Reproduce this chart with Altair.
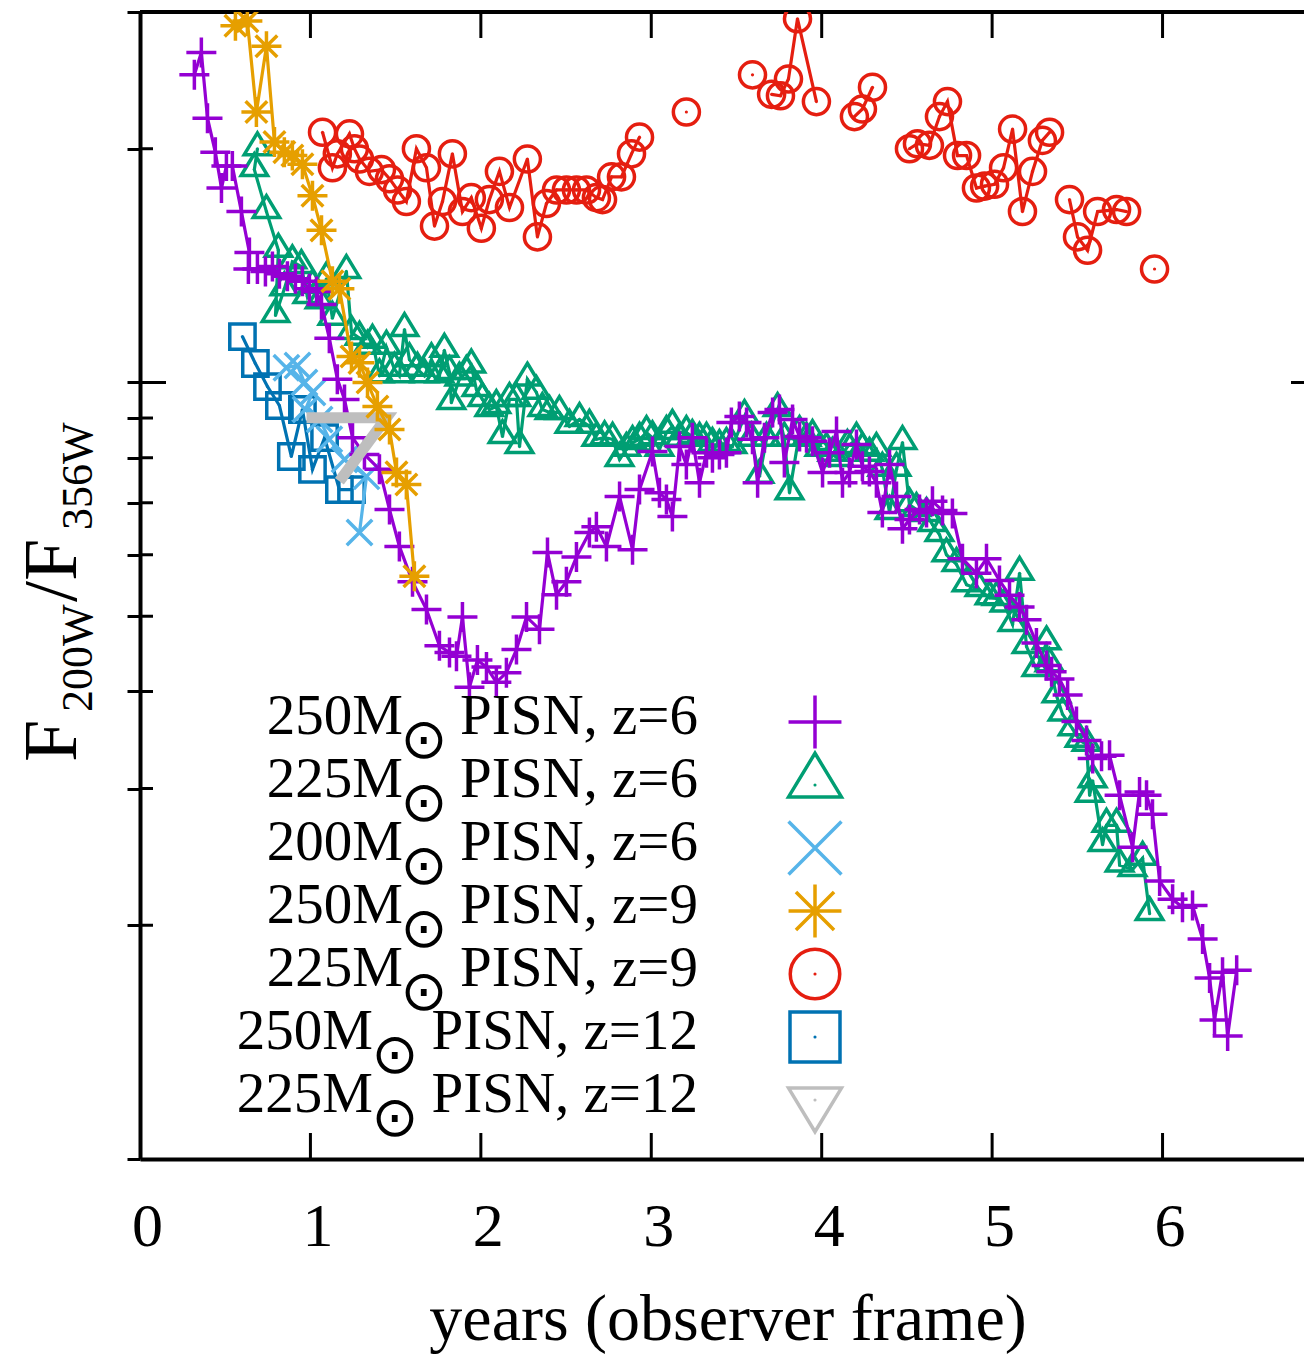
import altair as alt
import pandas as pd

# ---------------- data (years, F200W/F356W) ----------------
p250z6_t = [0.319,0.360,0.396,0.442,0.478,0.507,0.542,0.595,0.642,0.636,
            0.689,0.736,0.777,0.818,0.865,0.912,0.953,0.994,1.036,1.065,
            1.111,1.158,1.200,1.247,1.317,1.405,1.464,1.522,1.599,1.681,
            1.757,1.816,1.857,1.892,1.933,1.980,2.033,2.091,2.150,2.209,
            2.268,2.344,2.391,2.444,2.502,2.561,2.637,2.678,2.737,2.814,
            2.890,2.931,3.007,3.048,3.089,3.124,3.166,3.206,3.241,3.283,
            3.324,3.359,3.400,3.441,3.470,3.517,3.559,3.594,3.624,3.664,
            3.712,3.752,3.781,3.829,3.870,3.911,3.946,4.005,4.046,4.087,
            4.122,4.163,4.204,4.239,4.280,4.321,4.356,4.398,4.439,4.474,
            4.515,4.574,4.615,4.650,4.709,4.767,4.826,4.908,4.967,5.043,
            5.102,5.161,5.202,5.260,5.319,5.349,5.395,5.443,5.495,5.554,
            5.590,5.642,5.689,5.748,5.824,5.865,5.906,5.941,5.983,6.059,
            6.117,6.176,6.235,6.276,6.305,6.352,6.382,6.435]
p250z6_v = [2.49,2.66,2.19,1.98,1.78,1.90,1.90,1.66,1.47,1.40,
            1.40,1.39,1.41,1.38,1.37,1.36,1.35,1.32,1.31,1.26,
            1.14,1.01,0.951,0.849,0.808,0.773,0.686,0.615,0.554,0.510,
            0.458,0.449,0.444,0.499,0.405,0.439,0.430,0.411,0.423,0.453,
            0.499,0.481,0.604,0.533,0.554,0.596,0.641,0.652,0.615,0.713,
            0.609,0.728,0.815,0.721,0.707,0.672,0.827,0.784,0.849,0.743,
            0.812,0.800,0.808,0.812,0.888,0.904,0.888,0.845,0.743,0.849,
            0.915,0.923,0.789,0.896,0.852,0.849,0.840,0.766,0.812,0.865,
            0.743,0.766,0.832,0.780,0.768,0.743,0.680,0.784,0.713,0.648,
            0.666,0.686,0.680,0.703,0.684,0.678,0.593,0.568,0.593,0.556,
            0.532,0.514,0.495,0.462,0.432,0.424,0.415,0.396,0.366,0.346,
            0.328,0.330,0.331,0.294,0.252,0.297,0.294,0.278,0.228,0.216,
            0.211,0.212,0.192,0.171,0.151,0.174,0.144,0.175]

p225z6_t = [0.689,0.671,0.742,0.812,0.795,0.847,0.894,0.947,0.982,1.012,
            1.054,1.094,1.129,1.211,1.241,1.288,1.335,1.364,1.405,1.446,
            1.493,1.522,1.552,1.581,1.628,1.669,1.710,1.757,1.786,1.816,
            1.827,1.874,1.915,1.944,1.974,2.009,2.050,2.091,2.127,2.168,
            2.209,2.227,2.273,2.326,2.361,2.403,2.461,2.520,2.579,2.637,
            2.678,2.726,2.773,2.814,2.854,2.890,2.931,2.972,3.007,3.048,
            3.089,3.124,3.166,3.206,3.241,3.283,3.324,3.359,3.400,3.441,
            3.476,3.547,3.588,3.635,3.676,3.741,3.781,3.811,3.870,3.911,
            3.946,3.987,4.028,4.063,4.104,4.151,4.204,4.239,4.280,4.321,
            4.356,4.398,4.439,4.474,4.515,4.556,4.615,4.650,4.691,4.732,
            4.791,4.850,4.926,4.985,5.026,5.073,5.120,5.161,5.202,5.260,
            5.319,5.337,5.378,5.413,5.472,5.513,5.554,5.572,5.590,5.648,
            5.671,5.730,5.748,5.824,5.883,5.924]
p225z6_v = [2.00,1.88,1.66,1.48,1.22,1.32,1.43,1.41,1.29,1.33,
            1.27,1.36,1.21,1.39,1.16,1.14,1.11,1.13,1.02,1.11,
            1.04,1.02,1.17,1.07,1.04,1.02,1.07,1.02,1.10,1.03,
            0.942,1.01,1.03,1.05,0.979,0.951,0.923,0.931,0.852,0.951,
            0.951,0.827,1.01,0.971,0.923,0.915,0.915,0.878,0.896,0.878,
            0.845,0.849,0.845,0.796,0.820,0.837,0.845,0.862,0.849,0.820,
            0.862,0.878,0.845,0.862,0.852,0.845,0.845,0.832,0.827,0.832,
            0.827,0.904,0.845,0.757,0.845,0.923,0.845,0.721,0.862,0.845,
            0.852,0.820,0.820,0.808,0.796,0.827,0.845,0.820,0.808,0.820,
            0.773,0.680,0.773,0.837,0.696,0.686,0.676,0.656,0.637,0.600,
            0.583,0.549,0.541,0.528,0.527,0.517,0.488,0.568,0.457,0.427,
            0.462,0.433,0.395,0.374,0.358,0.346,0.342,0.294,0.307,0.254,
            0.269,0.269,0.239,0.236,0.244,0.207]

p200z6_t = [0.859,0.924,0.965,1.012,0.971,1.054,1.111,1.200,1.329,1.288]
p200z6_v = [1.045,1.052,1.00,0.971,0.923,0.896,0.845,0.796,0.757,0.641]

p250z9_t = [0.560,0.630,0.683,0.742,0.789,0.847,0.894,0.953,1.012,1.065,
            1.129,1.170,1.241,1.288,1.335,1.393,1.464,1.505,1.563,1.610]
p250z9_v = [2.88,2.92,2.23,2.71,2.04,1.98,1.96,1.91,1.74,1.57,
            1.35,1.32,1.08,1.06,1.00,0.931,0.870,0.766,0.739,0.563]

p225z9_t = [1.071,1.129,1.158,1.229,1.258,1.288,1.346,1.417,1.464,1.511,
            1.563,1.622,1.681,1.728,1.775,1.833,1.892,1.944,2.003,2.050,
            2.109,2.168,2.273,2.332,2.385,2.444,2.502,2.561,2.620,2.678,
            2.714,2.767,2.825,2.884,2.931,
            3.206,
            3.594,
            3.706,3.758,3.805,3.858,3.969,
            4.192,4.239,4.298,
            4.515,4.562,4.632,4.691,4.738,4.797,4.850,4.908,4.956,5.014,
            5.067,5.120,5.178,5.237,5.295,5.337,
            5.454,5.501,5.560,5.619,5.730,5.789,
            5.953]
p225z9_v = [2.10,1.89,1.97,2.09,2.00,1.94,1.87,1.88,1.83,1.77,
            1.71,2.00,1.89,1.59,1.71,1.97,1.66,1.73,1.58,1.72,
            1.87,1.68,1.94,1.54,1.70,1.77,1.77,1.77,1.77,1.73,
            1.72,1.84,1.84,1.97,2.07,
            2.23,
            2.49,
            2.35,2.34,2.46,2.94,2.30,
            2.20,2.25,2.40,
            2.00,2.03,2.02,2.20,2.30,1.96,1.96,1.78,1.79,1.80,
            1.89,2.12,1.66,1.87,2.05,2.10,
            1.72,1.54,1.48,1.66,1.67,1.66,
            1.40]
p225z9_seg = [1]*35 + [2] + [3] + [4]*5 + [5]*3 + [6]*16 + [7]*6 + [8]

p250z12_t = [0.601,0.677,0.748,0.818,0.888,0.953,1.012,1.083,1.170,1.241]
p250z12_v = [1.146,1.058,0.988,0.934,0.803,0.923,0.773,0.849,0.728,0.728]

p225z12_t = [0.977,1.446,1.170]
p225z12_v = [0.901,0.901,0.746]

legend_mass = ["250M", "225M", "200M", "250M", "225M", "250M", "225M"]
legend_rest = ["PISN, z=6", "PISN, z=6", "PISN, z=6", "PISN, z=9",
               "PISN, z=9", "PISN, z=12", "PISN, z=12"]

x_ticks = [0, 1, 2, 3, 4, 5, 6]
y_ticks = [0.1, 0.2, 0.3, 0.4, 0.5, 0.6, 0.7, 0.8, 0.9, 1, 2, 3]
y_minor = [0.2, 0.3, 0.4, 0.5, 0.6, 0.7, 0.8, 0.9, 2]
y_major = [1]

# ---------------- styling ----------------
W, H = 1164, 1147
FONT = "Liberation Serif"
PLUS = "M-1,0L1,0M0,-1L0,1"
CROSS = "M-1,-1L1,1M-1,1L1,-1"
STAR = "M-1,0L1,0M0,-1L0,1M-0.72,-0.72L0.72,0.72M-0.72,0.72L0.72,-0.72"
TRI_UP = "M0,-1.2L1,0.45L-1,0.45Z"
TRI_DN = "M0,1.2L1,-0.45L-1,-0.45Z"
SQUARE = "M-1,-1L1,-1L1,1L-1,1Z"

xs = alt.Scale(domain=[0, 6.83], nice=False, zero=False)
ys = alt.Scale(type="log", domain=[0.1, 3], nice=False)
x_axis = alt.Axis(values=x_ticks, format="d", ticks=False, tickSize=0,
                  labelPadding=37, labelOffset=7, labelFont=FONT,
                  labelFontSize=62, labelColor="black", labelOverlap=False,
                  labelFlush=False, domainColor="black", domainWidth=4,
                  grid=False, title=None)
y_axis = alt.Axis(values=y_ticks, labels=False, tickSize=13, tickWidth=3,
                  tickColor="black", domainColor="black", domainWidth=4,
                  grid=False, title=None)


def X():
    return alt.X("t:Q", scale=xs, axis=x_axis)


def Y():
    return alt.Y("v:Q", scale=ys, axis=y_axis)


series = [
    dict(t=p250z6_t, v=p250z6_v, color="#9400D3", shape=PLUS, size=900, dot=False, lw=3.2, pts=True, lsize=2800),
    dict(t=p225z6_t, v=p225z6_v, color="#009E73", shape=TRI_UP, size=700, dot=True, lw=3.2, pts=True, lsize=2800),
    dict(t=p200z6_t, v=p200z6_v, color="#56B4E9", shape=CROSS, size=650, dot=False, lw=3.2, pts=True, lsize=2800),
    dict(t=p250z9_t, v=p250z9_v, color="#E69F00", shape=STAR, size=900, dot=False, lw=3.2, pts=True, lsize=2800),
    dict(t=p225z9_t, v=p225z9_v, color="#E51E10", shape="circle", size=680, dot=True, lw=3.2, pts=True, lsize=2450),
    dict(t=p250z12_t, v=p250z12_v, color="#0072B2", shape=SQUARE, size=640, dot=True, lw=3.2, pts=True, lsize=2500),
    dict(t=p225z12_t, v=p225z12_v, color="#BEBEBE", shape=TRI_DN, size=600, dot=True, lw=11, pts=False, lsize=2800),
]
series[4]["seg"] = p225z9_seg
draw_order = [4, 5, 2, 1, 0, 6, 3]   # last one ends up on top

layers = []

# frame: top border and inward ticks
layers.append(alt.Chart(pd.DataFrame({"a": [0]})).mark_rule(color="black", strokeWidth=4)
              .encode(x=alt.value(0), x2=alt.value(W), y=alt.value(0)))
xt = pd.DataFrame({"t": x_ticks[1:]})
layers.append(alt.Chart(xt).mark_rule(color="black", strokeWidth=3)
              .encode(x=X(), y=alt.value(0), y2=alt.value(26)))
layers.append(alt.Chart(xt).mark_rule(color="black", strokeWidth=3)
              .encode(x=X(), y=alt.value(H - 26), y2=alt.value(H)))
layers.append(alt.Chart(pd.DataFrame({"v": y_minor})).mark_rule(color="black", strokeWidth=3)
              .encode(y=Y(), x=alt.value(0), x2=alt.value(13)))
layers.append(alt.Chart(pd.DataFrame({"v": y_major})).mark_rule(color="black", strokeWidth=3)
              .encode(y=Y(), x=alt.value(0), x2=alt.value(26)))
layers.append(alt.Chart(pd.DataFrame({"v": y_major})).mark_rule(color="black", strokeWidth=3)
              .encode(y=Y(), x=alt.value(W - 13), x2=alt.value(W)))

for k in draw_order:
    s = series[k]
    n = len(s["t"])
    df = pd.DataFrame({"t": s["t"], "v": s["v"], "idx": list(range(n)),
                       "seg": s.get("seg", [1] * n)})
    base = alt.Chart(df)
    layers.append(base.mark_line(color=s["color"], strokeWidth=s["lw"], clip=True,
                                 strokeJoin="miter")
                  .encode(x=X(), y=Y(), order="idx:Q", detail="seg:N"))
    if s["pts"]:
        layers.append(base.mark_point(shape=s["shape"], size=s["size"], filled=False,
                                      color=s["color"], strokeWidth=3.5, opacity=1, clip=True)
                      .encode(x=X(), y=Y()))
        if s["dot"]:
            layers.append(base.mark_point(shape="circle", size=10, filled=True,
                                          color=s["color"], opacity=1, clip=True)
                          .encode(x=X(), y=Y()))

# key
for i, s in enumerate(series):
    yc = 710 + 63 * i
    narrow = legend_rest[i].endswith("12")
    x1 = 233 if narrow else 263
    xo = 255 if narrow else 284
    layers.append(alt.Chart(pd.DataFrame({"s": [legend_mass[i]]}))
                  .mark_text(align="right", baseline="alphabetic", font=FONT,
                             fontSize=57, color="black")
                  .encode(text="s:N", x=alt.value(x1), y=alt.value(yc + 12)))
    layers.append(alt.Chart(pd.DataFrame({"s": ["\u2299"]}))
                  .mark_text(align="center", baseline="middle", font="DejaVu Sans",
                             fontSize=56, color="black")
                  .encode(text="s:N", x=alt.value(xo), y=alt.value(yc + 19)))
    layers.append(alt.Chart(pd.DataFrame({"s": [legend_rest[i]]}))
                  .mark_text(align="right", baseline="alphabetic", font=FONT,
                             fontSize=57, color="black")
                  .encode(text="s:N", x=alt.value(558), y=alt.value(yc + 12)))
    layers.append(alt.Chart(pd.DataFrame({"a": [0]}))
                  .mark_point(shape=s["shape"], size=s["lsize"], filled=False,
                              color=s["color"], strokeWidth=3.5, opacity=1)
                  .encode(x=alt.value(675), y=alt.value(yc)))
    if s["dot"]:
        layers.append(alt.Chart(pd.DataFrame({"a": [0]}))
                      .mark_point(shape="circle", size=10, filled=True,
                                  color=s["color"], opacity=1)
                      .encode(x=alt.value(675), y=alt.value(yc)))

# axis titles
layers.append(alt.Chart(pd.DataFrame({"s": ["years (observer frame)"]}))
              .mark_text(align="center", baseline="alphabetic", font=FONT,
                         fontSize=66, color="black")
              .encode(text="s:N", x=alt.value(588), y=alt.value(H + 181)))
ytitle = [("F", 76, -64, 750), ("200W", 44, -48, 700),
          ("/F", 76, -64, 590), ("356W", 44, -48, 518)]
for txt, fs, px, py in ytitle:
    layers.append(alt.Chart(pd.DataFrame({"s": [txt]}))
                  .mark_text(align="left", baseline="alphabetic", angle=270,
                             font=FONT, fontSize=fs, color="black")
                  .encode(text="s:N", x=alt.value(px), y=alt.value(py)))

chart = alt.layer(*layers).properties(
    width=W, height=H,
    autosize=alt.AutoSizeParams(type="none"),
    padding={"left": 140, "top": 12, "right": 0, "bottom": 199},
    background="white",
).configure_view(stroke=None)

chart.save("out.html", embed_options={"renderer": "svg", "actions": False})
